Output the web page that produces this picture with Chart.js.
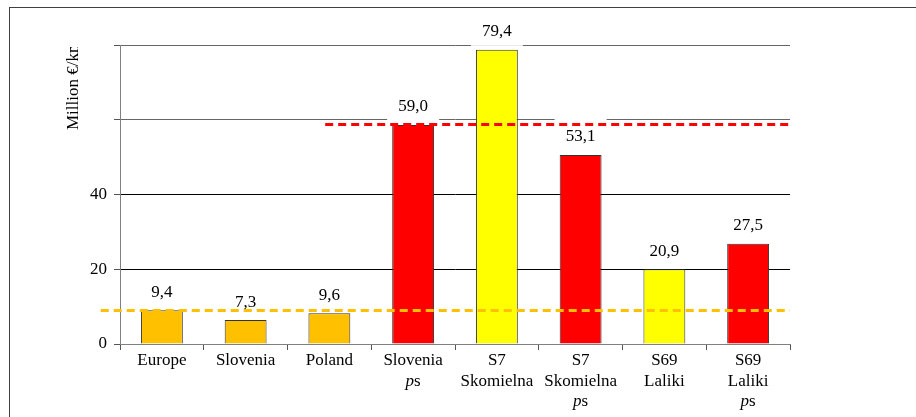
<!DOCTYPE html>
<html>
<head>
<meta charset="utf-8">
<script src="https://cdn.jsdelivr.net/npm/chart.js@4.4.1/dist/chart.umd.min.js"></script>
<style>
  html, body { margin: 0; padding: 0; background: #fff; }
  #wrap { position: relative; width: 916px; height: 417px; }
  #frame { position: absolute; left: 9px; top: 7px; right: 0; bottom: 0; border-left: 1px solid #404040; border-top: 1px solid #404040; }
  #myChart { position: absolute; left: 0; top: 0; }
</style>
</head>
<body>
<div id="wrap">
  <div id="frame"></div>
  <canvas id="myChart" width="916" height="417"></canvas>
</div>
<script>
// categories, one entry per line of the axis label
const categories = [
  ['Europe'],
  ['Slovenia'],
  ['Poland'],
  ['Slovenia', 'ps'],
  ['S7', 'Skomielna'],
  ['S7', 'Skomielna', 'ps'],
  ['S69', 'Laliki'],
  ['S69', 'Laliki', 'ps']
];
// bar heights as drawn, and the values printed above them
const barValues = [9.0, 6.4, 8.2, 58.6, 78.7, 50.6, 20.0, 26.8];
const labelValues = [9.4, 7.3, 9.6, 59.0, 79.4, 53.1, 20.9, 27.5];
const barColors = ['#FFC000', '#FFC000', '#FFC000', '#FF0000', '#FFFF00', '#FF0000', '#FFFF00', '#FF0000'];
const yTicks = [0, 20, 40, 60, 80];
const yTickLabels = ['0', '20', '40', '', ''];

// dashed reference lines (value, start category, colour)
const refValues = [9.1, 58.9];
const refFrom = [-0.73, 1.95];
const refColors = ['#FFC000', '#FF0000'];

const FONT = '"Liberation Serif", "Times New Roman", serif';

const labelPlugin = {
  id: 'labelPlugin',
  afterDatasetsDraw(chart) {
    const ctx = chart.ctx;
    const meta = chart.getDatasetMeta(0);
    ctx.save();
    ctx.font = '17px ' + FONT;
    ctx.textAlign = 'center';
    ctx.textBaseline = 'middle';
    meta.data.forEach((bar, i) => {
      const cy = bar.y - 18;
      ctx.fillStyle = '#fff';
      ctx.fillRect(bar.x - 26, cy - 18, 52, 32);
      ctx.fillStyle = '#000';
      ctx.fillText(labelValues[i].toFixed(1).replace('.', ','), bar.x, cy);
    });
    ctx.restore();
  },
  afterDraw(chart) {
    const ctx = chart.ctx;
    const x = chart.scales.x;
    const y = chart.scales.y;
    const area = chart.chartArea;

    // dashed lines
    ctx.save();
    ctx.lineWidth = 3;
    ctx.setLineDash([8, 5]);
    refValues.forEach((v, i) => {
      const py = Math.round(y.getPixelForValue(v)) + 0.5;
      ctx.strokeStyle = refColors[i];
      ctx.beginPath();
      ctx.moveTo(x.getPixelForValue(refFrom[i]), py);
      ctx.lineTo(area.right, py);
      ctx.stroke();
    });
    ctx.restore();

    // category labels, "p" in italics
    ctx.save();
    ctx.fillStyle = '#000';
    ctx.textBaseline = 'middle';
    categories.forEach((lines, i) => {
      const cx = x.getPixelForValue(i);
      lines.forEach((line, j) => {
        const ly = area.bottom + 17 + j * 20.5;
        if (line === 'ps') {
          ctx.font = 'italic 17px ' + FONT;
          const wp = ctx.measureText('p').width;
          ctx.font = '17px ' + FONT;
          const ws = ctx.measureText('s').width;
          const left = cx - (wp + ws) / 2;
          ctx.textAlign = 'left';
          ctx.font = 'italic 17px ' + FONT;
          ctx.fillText('p', left, ly);
          ctx.font = '17px ' + FONT;
          ctx.fillText('s', left + wp, ly);
        } else {
          ctx.textAlign = 'center';
          ctx.font = '17px ' + FONT;
          ctx.fillText(line, cx, ly);
        }
      });
    });
    ctx.restore();

    // axis title, cut off at the top like the original
    ctx.save();
    ctx.beginPath();
    ctx.rect(0, 47, 120, 300);
    ctx.clip();
    ctx.translate(78, 130);
    ctx.rotate(-Math.PI / 2);
    ctx.font = '17px ' + FONT;
    ctx.fillStyle = '#000';
    ctx.textAlign = 'left';
    ctx.textBaseline = 'alphabetic';
    ctx.fillText('Million €/km', 0, 0);
    ctx.restore();
  }
};

const ctx = document.getElementById('myChart').getContext('2d');
const myChart = new Chart(ctx, {
  type: 'bar',
  data: {
    labels: categories.map(c => c.join(' ')),
    datasets: [{
      data: barValues,
      backgroundColor: barColors,
      borderColor: '#333',
      borderWidth: 1,
      barPercentage: 0.5,
      categoryPercentage: 1.0
    }]
  },
  options: {
    responsive: false,
    animation: false,
    devicePixelRatio: 1,
    layout: {
      padding: { left: 0, right: 126, top: 45, bottom: 0 }
    },
    plugins: {
      legend: { display: false },
      tooltip: { enabled: false }
    },
    scales: {
      x: {
        afterFit(scale) { scale.height = 73; },
        grid: {
          offset: true,
          drawOnChartArea: false,
          tickLength: 6,
          tickColor: '#555'
        },
        border: { color: '#808080', width: 1 },
        ticks: { display: false }
      },
      y: {
        min: 0,
        max: 80,
        afterFit(scale) { scale.width = 120; },
        afterBuildTicks(scale) { scale.ticks = yTicks.map(v => ({ value: v })); },
        grid: {
          color: c => (c.tick && c.tick.value >= 60) || (c.tick && c.tick.value === 0) ? '#666' : '#000',
          tickColor: '#555',
          tickLength: 6
        },
        border: { color: '#808080', width: 1 },
        ticks: {
          padding: 7,
          color: '#000',
          font: { family: FONT, size: 17 },
          callback: (v) => yTickLabels[yTicks.indexOf(v)]
        }
      }
    }
  },
  plugins: [labelPlugin]
});
</script>
</body>
</html>
